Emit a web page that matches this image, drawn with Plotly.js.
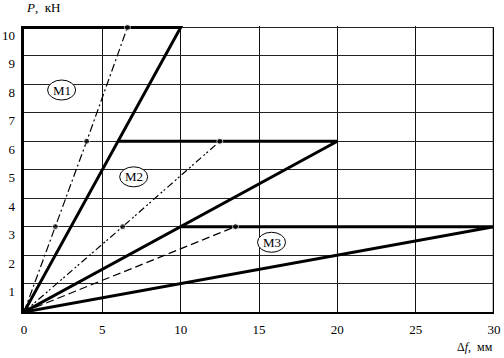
<!DOCTYPE html>
<html>
<head>
<meta charset="utf-8">
<script src="https://cdn.plot.ly/plotly-3.0.1.min.js"></script>
<style>html,body{margin:0;padding:0;background:#fff}#chart{width:504px;height:358px}</style>
</head>
<body>
<div id="chart"></div>
<script>
// Solid load curves (thick): rise then plateau
const m1SolidX = [0, 10, 0];
const m1SolidY = [0, 10, 10];
const m2SolidX = [0, 20, 6];
const m2SolidY = [0, 6, 6];
const m3SolidX = [0, 30, 10];
const m3SolidY = [0, 3, 3];
// Broken lines with marked points
const m1DashX = [0, 2, 4, 6.6];
const m1DashY = [0, 3, 6, 10];
const m2DashX = [0, 6.3, 12.5];
const m2DashY = [0, 3, 6];
const m3DashX = [0, 13.5];
const m3DashY = [0, 3];
// Curve labels
const labelNames = ['M1', 'M2', 'M3'];
const labelX = [2.4, 7.0, 15.8];
const labelY = [7.8, 4.75, 2.45];
// Ticks
const xTicks = [0, 5, 10, 15, 20, 25, 30];
const yTicks = [1, 2, 3, 4, 5, 6, 7, 8, 9, 10];

const FONT = 'Liberation Serif, Times New Roman, serif';
const solid = {color: '#000', width: 3};
function markerSizes(n) { const a = [0]; for (let i = 1; i < n; i++) a.push(6); return a; }

const traces = [
  {x: m1SolidX, y: m1SolidY, mode: 'lines', line: solid},
  {x: m2SolidX, y: m2SolidY, mode: 'lines', line: solid},
  {x: m3SolidX, y: m3SolidY, mode: 'lines', line: solid},
  {x: m1DashX, y: m1DashY, mode: 'lines+markers', cliponaxis: false,
   line: {color: '#000', width: 1.2, dash: '8px,3px,2px,3px'},
   marker: {color: '#000', size: markerSizes(m1DashX.length)}},
  {x: m2DashX, y: m2DashY, mode: 'lines+markers',
   line: {color: '#000', width: 1.2, dash: '7px,3px,2px,2px,2px,3px'},
   marker: {color: '#000', size: markerSizes(m2DashX.length)}},
  {x: m3DashX, y: m3DashY, mode: 'lines+markers',
   line: {color: '#000', width: 1.2, dash: '8px,4px'},
   marker: {color: '#000', size: markerSizes(m3DashX.length)}}
];

const shapes = [
  // right border at x = 30
  {type: 'line', xref: 'x', yref: 'y', x0: 30, x1: 30, y0: 0, y1: 10, line: {color: '#000', width: 2.5}}
];
const annotations = [];
labelNames.forEach((t, i) => {
  shapes.push({type: 'circle', xref: 'x', yref: 'y', xsizemode: 'pixel', ysizemode: 'pixel',
    xanchor: labelX[i], yanchor: labelY[i], x0: -14, x1: 14, y0: -10, y1: 10,
    line: {color: '#000', width: 1}, fillcolor: '#fff'});
  annotations.push({x: labelX[i], y: labelY[i], xref: 'x', yref: 'y', text: t, showarrow: false,
    font: {family: FONT, size: 13, color: '#000'}});
});
annotations.push({xref: 'paper', yref: 'paper', x: 0, y: 1, yshift: 19, xanchor: 'left', yanchor: 'middle',
  text: '<i>P</i>,  кН', showarrow: false, font: {family: FONT, size: 13, color: '#000'}});
annotations.push({xref: 'paper', yref: 'paper', x: 1.003, y: 0, yshift: -35, xanchor: 'right', yanchor: 'middle',
  text: 'Δ<i>f</i>,  мм', showarrow: false, font: {family: FONT, size: 12, color: '#000'}});

const layout = {
  width: 504, height: 358,
  margin: {l: 24, r: 10, t: 26, b: 46},
  paper_bgcolor: '#fff', plot_bgcolor: '#fff',
  showlegend: false,
  font: {family: FONT, size: 13, color: '#000'},
  xaxis: {range: [0, 30], tickvals: xTicks, ticktext: xTicks.map(String),
    showgrid: true, gridcolor: '#111', gridwidth: 1, zeroline: false,
    showline: true, linecolor: '#000', linewidth: 2, ticks: '', ticklabelstandoff: 4,
    tickfont: {family: FONT, size: 13, color: '#000'}, fixedrange: true},
  yaxis: {range: [0, 10.05], tickvals: yTicks, ticktext: yTicks.map(String),
    showgrid: true, gridcolor: '#222', gridwidth: 1, zeroline: false,
    showline: true, linecolor: '#000', linewidth: 3.5, ticks: '', ticklabelstandoff: 3,
    ticklabelshift: 8,
    tickfont: {family: FONT, size: 13, color: '#000'}, fixedrange: true},
  shapes: shapes,
  annotations: annotations
};

Plotly.newPlot('chart', traces, layout, {displayModeBar: false, staticPlot: true});
</script>
</body>
</html>
